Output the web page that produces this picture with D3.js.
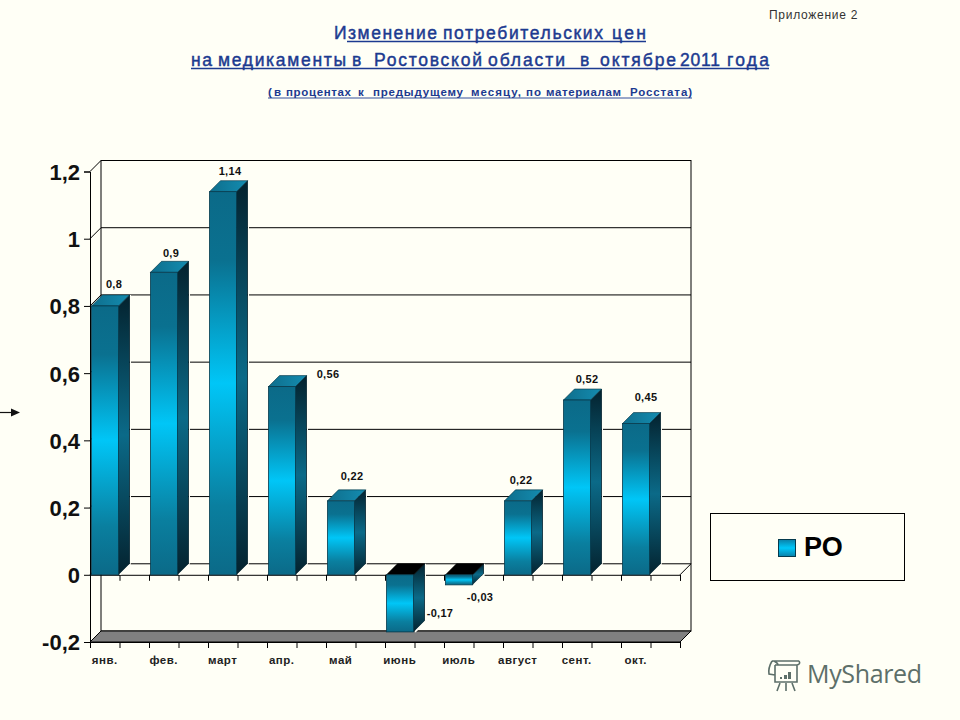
<!DOCTYPE html>
<html><head><meta charset="utf-8">
<script src="https://cdn.jsdelivr.net/npm/d3@7/dist/d3.min.js"></script>
<style>
html,body{margin:0;padding:0;background:#fffff6}
text{font-family:"Liberation Sans",Arial,sans-serif}
</style></head><body><svg id="c" width="960" height="720"></svg>
<script>
const categories=["янв.","фев.","март","апр.","май","июнь","июль","август","сент.","окт."];
const seriesValues=[0.8,0.9,1.14,0.56,0.22,-0.17,-0.03,0.22,0.52,0.45];
const valueLabels=["0,8","0,9","1,14","0,56","0,22","-0,17","-0,03","0,22","0,52","0,45"];
const yTickValues=[-0.2,0,0.2,0.4,0.6,0.8,1,1.2];
const seriesName="РО";

const svg=d3.select("#c");
svg.append("rect").attr("width",960).attr("height",720).attr("fill","#fffff6");
const d=11, L=90, R=680;
const y=d3.scaleLinear().domain([-0.2,1.2]).range([642,171.5]);
const x=d3.scaleBand().domain(categories).range([L,R]);
const tickScale=d3.scaleLinear().domain([0,categories.length]).range([L,R]);
const barW=27, barInset=1.5;

const defs=svg.append("defs");
function grad(id,stops,horizontal){
  const g=defs.append("linearGradient").attr("id",id).attr("x1",0).attr("y1",0).attr("x2",horizontal?1:0).attr("y2",horizontal?0:1);
  stops.forEach(s=>g.append("stop").attr("offset",s[0]).attr("stop-color",s[1]));
}
grad("front",[[0,"#0b6a88"],[.18,"#0a7190"],[.5,"#00c6f7"],[.82,"#0a7f9f"],[1,"#0b6a88"]]);
grad("side",[[0,"#04222e"],[.5,"#0b6a88"],[1,"#04222e"]]);
grad("topf",[[0,"#0e6e8c"],[1,"#148cb0"]],true);
grad("swatch",[[0,"#0a80a8"],[.5,"#00c8fa"],[1,"#0a80a8"]]);

/* titles: words set one by one, as the original spaces them unevenly */
const blue="#1c3a90";
function words(list,base,size,weight,stroke){
  svg.append("g").selectAll("text").data(list).join("text")
    .attr("x",w=>w[1]).attr("y",base).attr("font-size",size).attr("font-weight",weight)
    .attr("fill",blue).attr("stroke",blue).attr("stroke-width",stroke)
    .attr("textLength",w=>w[2]-w[1]).attr("lengthAdjust","spacing").text(w=>w[0]);
}
function rule(a,b,py,sw){svg.append("line").attr("x1",a).attr("x2",b).attr("y1",py).attr("y2",py).attr("stroke",blue).attr("stroke-width",sw);}
words([["Изменение",334,437],["потребительских",443,603],["цен",612,646]],39,17.5,"normal",.45);
rule(347,646,41.5,1.4);
words([["на",191,212],["медикаменты",218,346],["в",352,362],["Ростовской",374,482],["области",488,565],["в",580,590],["октябре",600,676],["2011",680,720],["года",727,769]],66,17.5,"normal",.45);
rule(191,769,68.5,1.4);
words([["(в",268,281],["процентах",286,351],["к",358,365],["предыдущему",373,463],["месяцу,",471,521],["по",526,541],["материалам",546,621],["Росстата)",630,692]],96,11.5,"bold",0);
rule(268,692,98,.9);
svg.append("text").attr("x",769).attr("y",19).attr("font-size",12).attr("fill","#333").attr("letter-spacing",.72).text("Приложение 2");

/* walls */
const ink="#000";
const plot=svg.append("g");
plot.append("rect").attr("x",L+d).attr("y",y(1.2)-d).attr("width",R-L).attr("height",y(-0.2)-y(1.2)).attr("fill","none").attr("stroke",ink);
plot.append("polygon").attr("points",[[L,y(-0.2)],[L+d,y(-0.2)-d],[R+d,y(-0.2)-d],[R,y(-0.2)]].join(" ")).attr("fill","#808080").attr("stroke",ink);
yTickValues.forEach(v=>{
  if(v>-0.2&&v<1.2) plot.append("line").attr("x1",L+d).attr("x2",R+d).attr("y1",y(v)-d).attr("y2",y(v)-d).attr("stroke",ink);
  if(v>-0.2) plot.append("line").attr("x1",L).attr("x2",L+d).attr("y1",y(v)).attr("y2",y(v)-d).attr("stroke",ink);
});
plot.append("line").attr("x1",R).attr("x2",R+d).attr("y1",y(0)).attr("y2",y(0)-d).attr("stroke",ink);

/* axes */
const fmt=v=>String(v).replace(".",",");
const ya=svg.append("g").attr("transform",`translate(${L},0)`).call(d3.axisLeft(y).tickValues(yTickValues).tickFormat(fmt).tickSizeOuter(0).tickSize(6).tickPadding(4));
ya.selectAll("text").attr("font-size",22).attr("font-weight","bold").attr("fill","#111").style("font-family",'"Liberation Sans"').attr("dy","0.36em");
ya.selectAll("path,line").attr("stroke",ink);
const tickVals=d3.range(0,categories.length*2+1).map(i=>i/2);
[y(0),y(-0.2)].forEach(py=>{
  const xa=svg.append("g").attr("transform",`translate(0,${py})`).call(d3.axisBottom(tickScale).tickValues(tickVals).tickFormat("").tickSizeOuter(0).tickSize(6));
  xa.selectAll("path,line").attr("stroke",ink);
});
svg.append("g").selectAll("text").data(categories).join("text")
  .attr("x",c=>x(c)+x.bandwidth()/4).attr("y",664).attr("text-anchor","middle")
  .attr("font-size",11.5).attr("font-weight","bold").attr("fill","#222").attr("letter-spacing",.5).text(c=>c);

/* bars */
const bars=svg.append("g").selectAll("g").data(categories.map((c,i)=>({c,v:seriesValues[i],i}))).join("g");
const poly=(pts)=>pts.map(p=>p.join(",")).join(" ");
bars.each(function(b){
  const g=d3.select(this), x0=x(b.c)+barInset, x1=x0+barW;
  const yT=y(Math.max(b.v,0)), yB=y(Math.min(b.v,0));
  g.append("polygon").attr("points",poly([[x1,yT],[x1+d,yT-d],[x1+d,yB-d],[x1,yB]])).attr("fill","url(#side)").attr("stroke","#04222e").attr("stroke-width",.8);
  g.append("line").attr("x1",x1+d+1).attr("x2",x1+d+1).attr("y1",yT-d).attr("y2",yB-d).attr("stroke","#fffff6").attr("stroke-width",1);
  g.append("line").attr("x1",x1+1.5).attr("x2",x1+d+1).attr("y1",yB).attr("y2",yB-d+.5).attr("stroke","#fffff6").attr("stroke-width",1.6);
  g.append("polygon").attr("points",poly([[x0,yT],[x0+d,yT-d],[x1+d,yT-d],[x1,yT]])).attr("fill",b.v<0?"#000":"url(#topf)").attr("stroke",b.v<0?"#000":"#04303f").attr("stroke-width",.6);
  g.append("rect").attr("x",x0).attr("y",yT).attr("width",barW).attr("height",yB-yT).attr("fill","url(#front)").attr("stroke","#053a4d").attr("stroke-width",.8);
});
/* value labels: placed relative to the bar, with the shifts the original uses */
const labelShift=[[9,-18],[7,-15],[7,-17],[46,-9],[11,-21],[40,-15],[21,16],[3,-17],[10,-17],[10,-23]];
svg.append("g").selectAll("text").data(seriesValues).join("text")
  .attr("x",(v,i)=>x(categories[i])+barInset+barW/2+labelShift[i][0])
  .attr("y",(v,i)=>y(Math.max(v,0))+labelShift[i][1]+(v<0?y(v)-y(0):0))
  .attr("text-anchor","middle").attr("font-size",11).attr("font-weight","bold").attr("fill","#111").attr("letter-spacing",.3)
  .text((v,i)=>valueLabels[i]);

/* legend */
svg.append("rect").attr("x",710.5).attr("y",513.5).attr("width",194).attr("height",67).attr("fill","none").attr("stroke",ink);
svg.append("rect").attr("x",778.5).attr("y",539.5).attr("width",17).attr("height",17).attr("fill","url(#swatch)").attr("stroke","#053a4d");
svg.append("text").attr("x",804).attr("y",556).attr("font-size",27).attr("font-weight","bold").attr("fill","#000").text(seriesName);

/* left arrow */
svg.append("line").attr("x1",0).attr("x2",14).attr("y1",412.5).attr("y2",412.5).attr("stroke","#111").attr("stroke-width",1.2);
svg.append("polygon").attr("points","11,408.5 20,412.5 11,416.5").attr("fill","#111");

/* watermark */
const wm="#5d6f69";
const w=svg.append("g").attr("fill","none").attr("stroke",wm).attr("stroke-width",1.6);
w.append("path").attr("d","M772 661 H799 M772 661 Q768 668 769 674 L775 675 M775 665 V682 H797 V665 H775 M774 661 Q778 663 778 665 M799 661 Q801 664 797 665");
w.append("path").attr("d","M780 683 L777 691 M786 683 V691 M792 683 L795 691");
w.append("g").attr("fill",wm).attr("stroke","none").selectAll("rect").data([[780,677,2,2],[784,675,3,4],[788,672,3,7]]).join("rect")
  .attr("x",r=>r[0]).attr("y",r=>r[1]).attr("width",r=>r[2]).attr("height",r=>r[3]);
svg.append("text").attr("x",807).attr("y",683).attr("font-size",25).attr("fill",wm).style("font-family","'Open Sans','Noto Sans',sans-serif").attr("textLength",115).text("MyShared");
</script></body></html>
